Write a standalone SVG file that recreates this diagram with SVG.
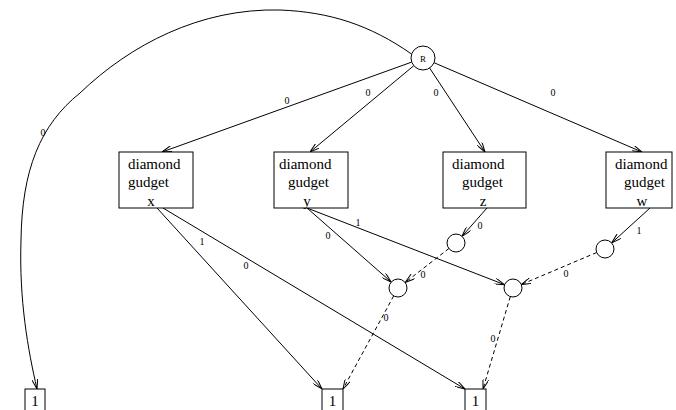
<svg xmlns="http://www.w3.org/2000/svg" width="676" height="410" viewBox="0 0 676 410">
<defs>
<marker id="ah" viewBox="0 0 10 6" refX="10" refY="3" markerWidth="10" markerHeight="6" markerUnits="userSpaceOnUse" orient="auto">
<path d="M0,0 L10,3 L0,6" fill="none" stroke="#000" stroke-width="1"/>
</marker>
<style>
.n{fill:#fff;stroke:#000;stroke-width:1}
.e{fill:none;stroke:#000;stroke-width:1;marker-end:url(#ah)}
.d{stroke-dasharray:4,3}
.t{font-family:"Liberation Serif","Times New Roman",serif;font-size:15px;fill:#000}
.l{font-family:"Liberation Serif","Times New Roman",serif;font-size:10px;fill:#000}
</style>
</defs>
<rect width="676" height="410" fill="#fff"/>
<g id="connectors">
<path class="e" d="M411.5,54 C370,25 330,12 280,10 C200,8 130,45 80,93 C40,125 22,170 21,240 C19,300 28,350 37,389"/>
<path class="e" d="M411.7,62.1 L162,152"/>
<path class="e" d="M413.8,65.7 L310,152"/>
<path class="e" d="M429.6,68 L485,152"/>
<path class="e" d="M434,62.7 L642,152"/>
<path class="e" d="M157,208 L322,389"/>
<path class="e" d="M163,208 L465,389"/>
<path class="e" d="M307,208 L391.2,282"/>
<path class="e" d="M307,208 L504.6,284.7"/>
<path class="e" d="M487,208 L462,236.3"/>
<path class="e" d="M650,208 L611.7,242.9"/>
<path class="e d" d="M448.9,248.5 L405.1,282.5"/>
<path class="e d" d="M596.7,252.5 L521.3,284.5"/>
<path class="e d" d="M393.7,295.9 L343,389"/>
<path class="e d" d="M510.3,296.6 L483,389"/>
<text class="l" x="43" y="136" text-anchor="middle">0</text>
<text class="l" x="287" y="104" text-anchor="middle">0</text>
<text class="l" x="368" y="96" text-anchor="middle">0</text>
<text class="l" x="436" y="96" text-anchor="middle">0</text>
<text class="l" x="553" y="96" text-anchor="middle">0</text>
<text class="l" x="202" y="245" text-anchor="middle">1</text>
<text class="l" x="246" y="269" text-anchor="middle">0</text>
<text class="l" x="328" y="239" text-anchor="middle">0</text>
<text class="l" x="358" y="226" text-anchor="middle">1</text>
<text class="l" x="480" y="229" text-anchor="middle">0</text>
<text class="l" x="639" y="234" text-anchor="middle">1</text>
<text class="l" x="423" y="278" text-anchor="middle">0</text>
<text class="l" x="566" y="277" text-anchor="middle">0</text>
<text class="l" x="386" y="321" text-anchor="middle">0</text>
<text class="l" x="493" y="342" text-anchor="middle">0</text>
</g>
<g id="R">
<circle class="n" cx="423" cy="58" r="12"/>
<text class="l" x="423" y="61.5" text-anchor="middle" style="font-size:9px">R</text>
</g>
<g id="gx">
<rect class="n" x="119" y="152" width="74" height="56"/>
<text class="t" x="128" y="169">diamond</text>
<text class="t" x="128" y="187">gudget</text>
<text class="t" x="151" y="206" text-anchor="middle">x</text>
</g>
<g id="gy">
<rect class="n" x="274" y="152" width="74" height="56"/>
<text class="t" x="279" y="169">diamond</text>
<text class="t" x="288" y="187">gudget</text>
<text class="t" x="307" y="206" text-anchor="middle">y</text>
</g>
<g id="gz">
<rect class="n" x="443" y="152" width="83" height="56"/>
<text class="t" x="452" y="169">diamond</text>
<text class="t" x="462" y="187">gudget</text>
<text class="t" x="483" y="206" text-anchor="middle">z</text>
</g>
<g id="gw">
<rect class="n" x="606" y="152" width="66" height="56"/>
<text class="t" x="615" y="169">diamond</text>
<text class="t" x="624" y="187">gudget</text>
<text class="t" x="642" y="206" text-anchor="middle">w</text>
</g>
<g id="cz"><circle class="n" cx="456" cy="243" r="9"/></g>
<g id="cw"><circle class="n" cx="605" cy="249" r="9"/></g>
<g id="c1"><circle class="n" cx="398" cy="288" r="9"/></g>
<g id="c2"><circle class="n" cx="513" cy="288" r="9"/></g>
<g id="t1">
<rect class="n" x="25" y="389" width="20" height="25"/>
<text class="t" x="35" y="406" text-anchor="middle">1</text>
</g>
<g id="t2">
<rect class="n" x="322" y="389" width="21" height="25"/>
<text class="t" x="332.5" y="406" text-anchor="middle">1</text>
</g>
<g id="t3">
<rect class="n" x="465" y="389" width="21" height="25"/>
<text class="t" x="475.5" y="406" text-anchor="middle">1</text>
</g>
</svg>
